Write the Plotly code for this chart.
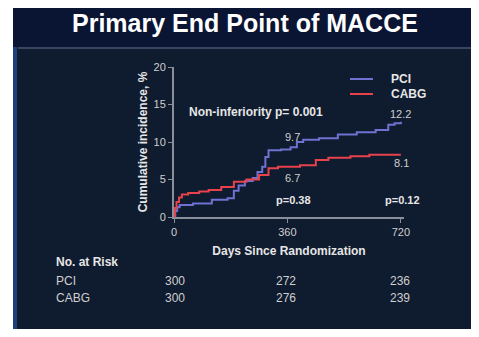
import plotly.graph_objects as go

# ---- data ----
pci_days = [0, 4, 10, 18, 60, 120, 170, 190, 205, 225, 250, 265, 280, 290, 300, 340, 370, 390, 410, 460, 520, 580, 640, 680, 700, 720]
pci_vals = [0, 0.8, 1.3, 1.6, 1.8, 2.3, 2.5, 3.5, 4.2, 4.8, 5.2, 6.0, 6.7, 8.0, 8.9, 9.0, 9.3, 10.0, 10.3, 10.5, 11.0, 11.3, 11.6, 12.3, 12.5, 12.7]
cabg_days = [0, 3, 8, 16, 25, 45, 80, 110, 150, 190, 230, 270, 300, 330, 400, 450, 490, 560, 620, 720]
cabg_vals = [0, 1.2, 2.0, 2.6, 3.0, 3.2, 3.4, 3.6, 4.0, 4.7, 5.0, 5.6, 6.5, 6.7, 6.9, 7.6, 7.9, 8.1, 8.3, 8.3]
x_ticks = [0, 360, 720]
y_ticks = [0, 5, 10, 15, 20]
risk_pci = [300, 272, 236]
risk_cabg = [300, 276, 239]
label_pts = [(360, 9.7, "9.7"), (360, 6.7, "6.7"), (720, 12.2, "12.2"), (720, 8.1, "8.1")]
p_labels = [(360, "p=0.38"), (720, "p=0.12")]

BG = "#0f1b2e"
TXT = "#e6e6e6"
SUB = "#cfcfcf"
FONT = "Liberation Sans, Arial, sans-serif"

O = 8  # page body margin offset
W, H = 479 - 2 * O, 337 - 2 * O
L, R, T, B = 174 - O, 479 - O - 404, 67 - O, 337 - O - 217

fig = go.Figure()
fig.add_trace(go.Scatter(x=pci_days, y=pci_vals, mode="lines", line=dict(color="#6f72d0", width=2, shape="hv"),
                         name="PCI", showlegend=False))
fig.add_trace(go.Scatter(x=cabg_days, y=cabg_vals, mode="lines", line=dict(color="#e8424c", width=2, shape="hv"),
                         name="CABG", showlegend=False))

pw = W - L - R
ph = H - T - B
def px(xp):
    return (xp - O - L) / pw
def py(yp):
    return (H - B - (yp - O)) / ph

shapes = [
    dict(type="rect", xref="paper", yref="paper", x0=px(13), x1=px(479 + 5),
         y0=py(337 + 5), y1=py(8), fillcolor=BG, line=dict(width=0), layer="below"),
    dict(type="rect", xref="paper", yref="paper", x0=px(13), x1=px(479 + 5), y0=py(47), y1=py(8),
         fillcolor="#0a1533", line=dict(width=0), layer="below"),
    dict(type="line", xref="paper", yref="paper", x0=px(18), x1=px(479 + 5), y0=py(48), y1=py(48),
         line=dict(color="#3a4660", width=2), layer="below"),
    dict(type="rect", xref="paper", yref="paper", x0=px(13), x1=px(17), y0=py(337 + 5), y1=py(47),
         fillcolor="#1f3f7a", line=dict(width=0), layer="below"),
    dict(type="line", xref="paper", yref="paper", x0=px(350), x1=px(373), y0=py(79), y1=py(79),
         line=dict(color="#6f72d0", width=2)),
    dict(type="line", xref="paper", yref="paper", x0=px(350), x1=px(373), y0=py(94), y1=py(94),
         line=dict(color="#e8424c", width=2)),
]

def txt(text, xp, yp, size, color, xanchor="left"):
    return dict(text=text, xref="paper", yref="paper", x=px(xp), y=py(yp), xanchor=xanchor,
                yanchor="middle", showarrow=False, font=dict(size=size, color=color, family=FONT))

ann = [
    txt("<b>Primary End Point of MACCE</b>", 245, 23, 25, "white", "center"),
    txt("<b>PCI</b>", 389, 79, 12, TXT),
    txt("<b>CABG</b>", 389, 94, 12, TXT),
    txt("<b>Non-inferiority p= 0.001</b>", 187, 112, 12, TXT),
    txt("<b>No. at Risk</b>", 54, 262, 12, TXT),
    txt("PCI", 54, 281, 12, SUB),
    txt("CABG", 54, 298, 12, SUB),
]
shifts = {"9.7": (5, 7), "6.7": (5, -11), "12.2": (0, 12), "8.1": (1, -7)}
for xv, yv, t in label_pts:
    ann.append(dict(text=t, x=xv, y=yv, xref="x", yref="y", showarrow=False,
                    xanchor="center", yanchor="middle",
                    xshift=shifts[t][0], yshift=shifts[t][1],
                    font=dict(size=11, color=SUB, family=FONT)))
for xv, t in p_labels:
    ann.append(dict(text="<b>" + t + "</b>", x=xv, y=py(200), xref="x", yref="paper", showarrow=False,
                    xanchor="center", yanchor="middle",
                    xshift=6 if xv == 360 else 2, font=dict(size=11, color=TXT, family=FONT)))
for xv, a, b in zip(x_ticks, risk_pci, risk_cabg):
    for val, yp in ((a, 281), (b, 298)):
        ann.append(dict(text=str(val), x=xv, y=py(yp), xref="x", yref="paper", showarrow=False,
                        xanchor="center", yanchor="middle",
                        xshift=1 if xv == 0 else -1, font=dict(size=12, color=SUB, family=FONT)))

fig.update_layout(
    width=W, height=H, margin=dict(l=L, r=R, t=T, b=B),
    paper_bgcolor="white", plot_bgcolor=BG,
    shapes=shapes, annotations=ann, showlegend=False,
    font=dict(family=FONT, color=SUB, size=11),
    xaxis=dict(range=[0, 730], tickvals=x_ticks, showgrid=False, zeroline=False,
               showline=True, linecolor="#8a8f99", linewidth=2, ticks="outside", ticklen=4,
               tickcolor="#8a8f99", tickfont=dict(size=11, color=SUB),
               title=dict(text="<b>Days Since Randomization</b>", font=dict(size=12, color=TXT), standoff=9)),
    yaxis=dict(range=[0, 20], tickvals=y_ticks, showgrid=False, zeroline=False,
               showline=True, linecolor="#8a8f99", linewidth=2, ticks="outside", ticklen=4,
               tickcolor="#8a8f99", tickfont=dict(size=11, color=SUB),
               title=dict(text="<b>Cumulative incidence, %</b>", font=dict(size=12, color=TXT), standoff=3)),
)

fig.write_html("out.html")
